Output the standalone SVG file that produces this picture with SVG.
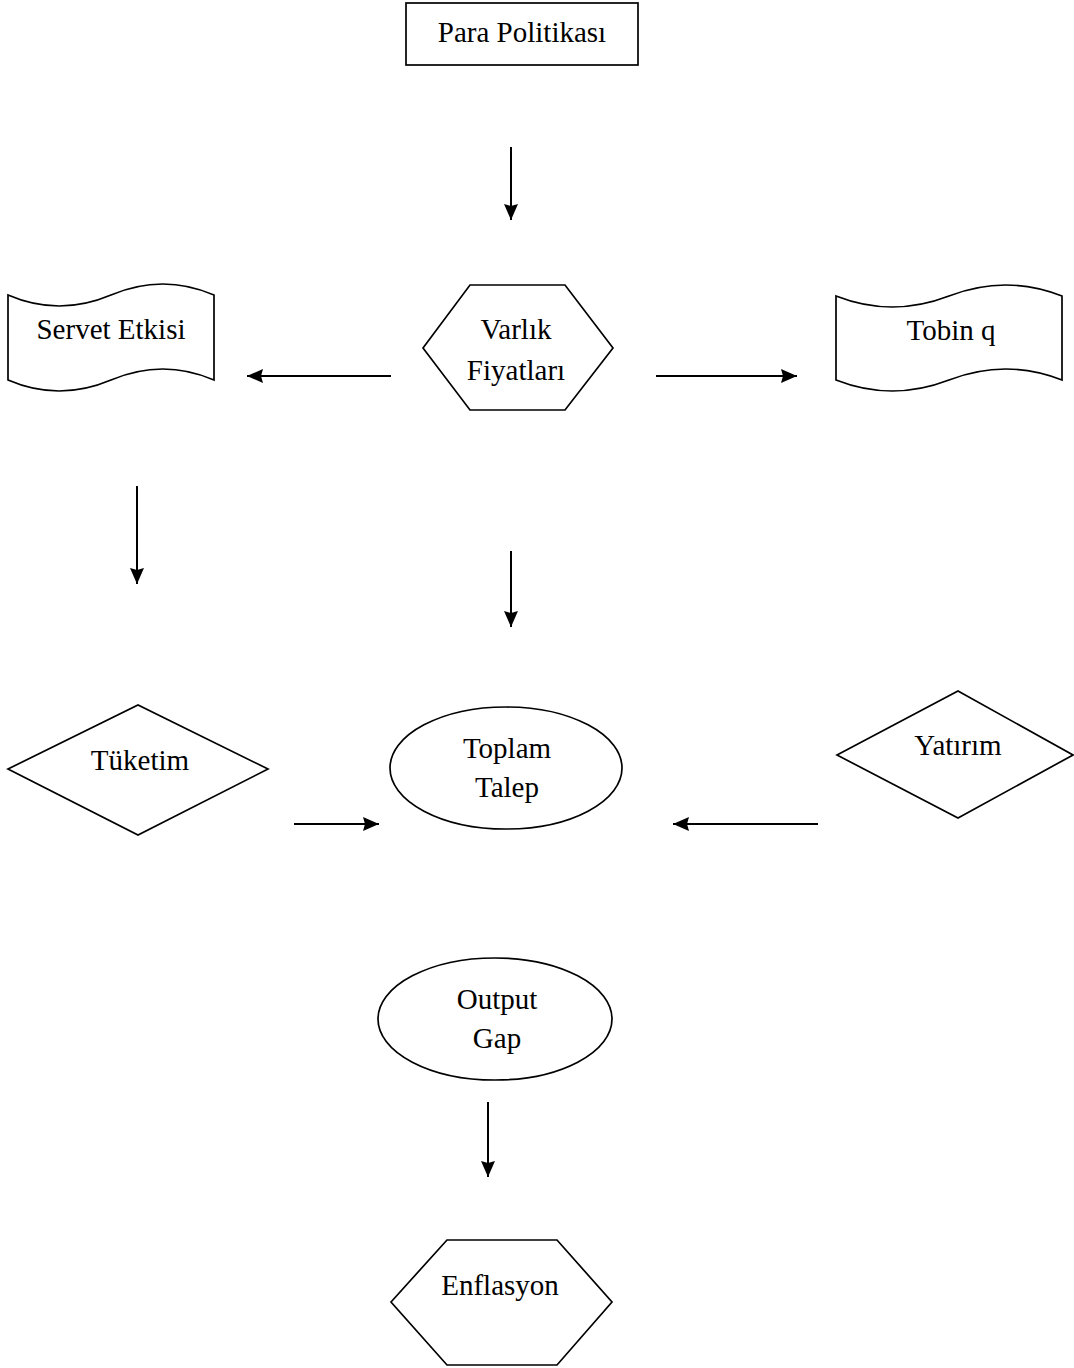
<svg xmlns="http://www.w3.org/2000/svg" width="1074" height="1368" viewBox="0 0 1074 1368">
<style>
.s{fill:#fff;stroke:#000;stroke-width:1.7}
.t{font-family:"Liberation Serif","Times New Roman",serif;font-size:29px;fill:#000;text-anchor:middle}
.c{stroke:#000;stroke-width:2;fill:none}
</style>
<defs>
<marker id="ah" viewBox="0 0 16 14" refX="16" refY="7" markerWidth="16" markerHeight="14" markerUnits="userSpaceOnUse" orient="auto">
<path d="M0,0 L16,7 L0,14 L2,7 Z" fill="#000"/>
</marker>
</defs>
<rect width="1074" height="1368" fill="#fff"/>
<g id="para-politikasi">
<rect class="s" x="406" y="3" width="232" height="62"/>
<text class="t" x="522" y="42">Para Politikası</text>
</g>
<g id="varlik-fiyatlari">
<polygon class="s" points="423,348 470,285 565,285 613,348 565,410 470,410"/>
<text class="t" x="516" y="339">Varlık</text>
<text class="t" x="516" y="380">Fiyatları</text>
</g>
<g id="servet-etkisi">
<path class="s" d="M8,295 Q59,317 111,295 T214,295 L214,380 Q163,358 111,380 T8,380 Z"/>
<text class="t" x="111" y="339">Servet Etkisi</text>
</g>
<g id="tobin-q">
<path class="s" d="M836,296 Q892,318 949,296 T1062,296 L1062,380 Q1006,358 949,380 T836,380 Z"/>
<text class="t" x="951" y="340">Tobin q</text>
</g>
<g id="tuketim">
<polygon class="s" points="8,769 138,705 268,769 138,835"/>
<text class="t" x="140" y="770">Tüketim</text>
</g>
<g id="toplam-talep">
<ellipse class="s" cx="506" cy="768" rx="116" ry="61"/>
<text class="t" x="507" y="758">Toplam</text>
<text class="t" x="507" y="797">Talep</text>
</g>
<g id="yatirim">
<polygon class="s" points="837,755 958,691 1073,755 958,818"/>
<text class="t" x="958" y="755">Yatırım</text>
</g>
<g id="output-gap">
<ellipse class="s" cx="495" cy="1019" rx="117" ry="61"/>
<text class="t" x="497" y="1009">Output</text>
<text class="t" x="497" y="1048">Gap</text>
</g>
<g id="enflasyon">
<polygon class="s" points="391,1302 447,1240 557,1240 612,1302 557,1365 447,1365"/>
<text class="t" x="500" y="1295">Enflasyon</text>
</g>
<g id="connectors">
<line class="c" x1="511" y1="147" x2="511" y2="220" marker-end="url(#ah)"/>
<line class="c" x1="391" y1="376" x2="247" y2="376" marker-end="url(#ah)"/>
<line class="c" x1="656" y1="376" x2="797" y2="376" marker-end="url(#ah)"/>
<line class="c" x1="137" y1="486" x2="137" y2="584" marker-end="url(#ah)"/>
<line class="c" x1="511" y1="551" x2="511" y2="627" marker-end="url(#ah)"/>
<line class="c" x1="294" y1="824" x2="379" y2="824" marker-end="url(#ah)"/>
<line class="c" x1="818" y1="824" x2="673" y2="824" marker-end="url(#ah)"/>
<line class="c" x1="488" y1="1102" x2="488" y2="1177" marker-end="url(#ah)"/>
</g>
</svg>
